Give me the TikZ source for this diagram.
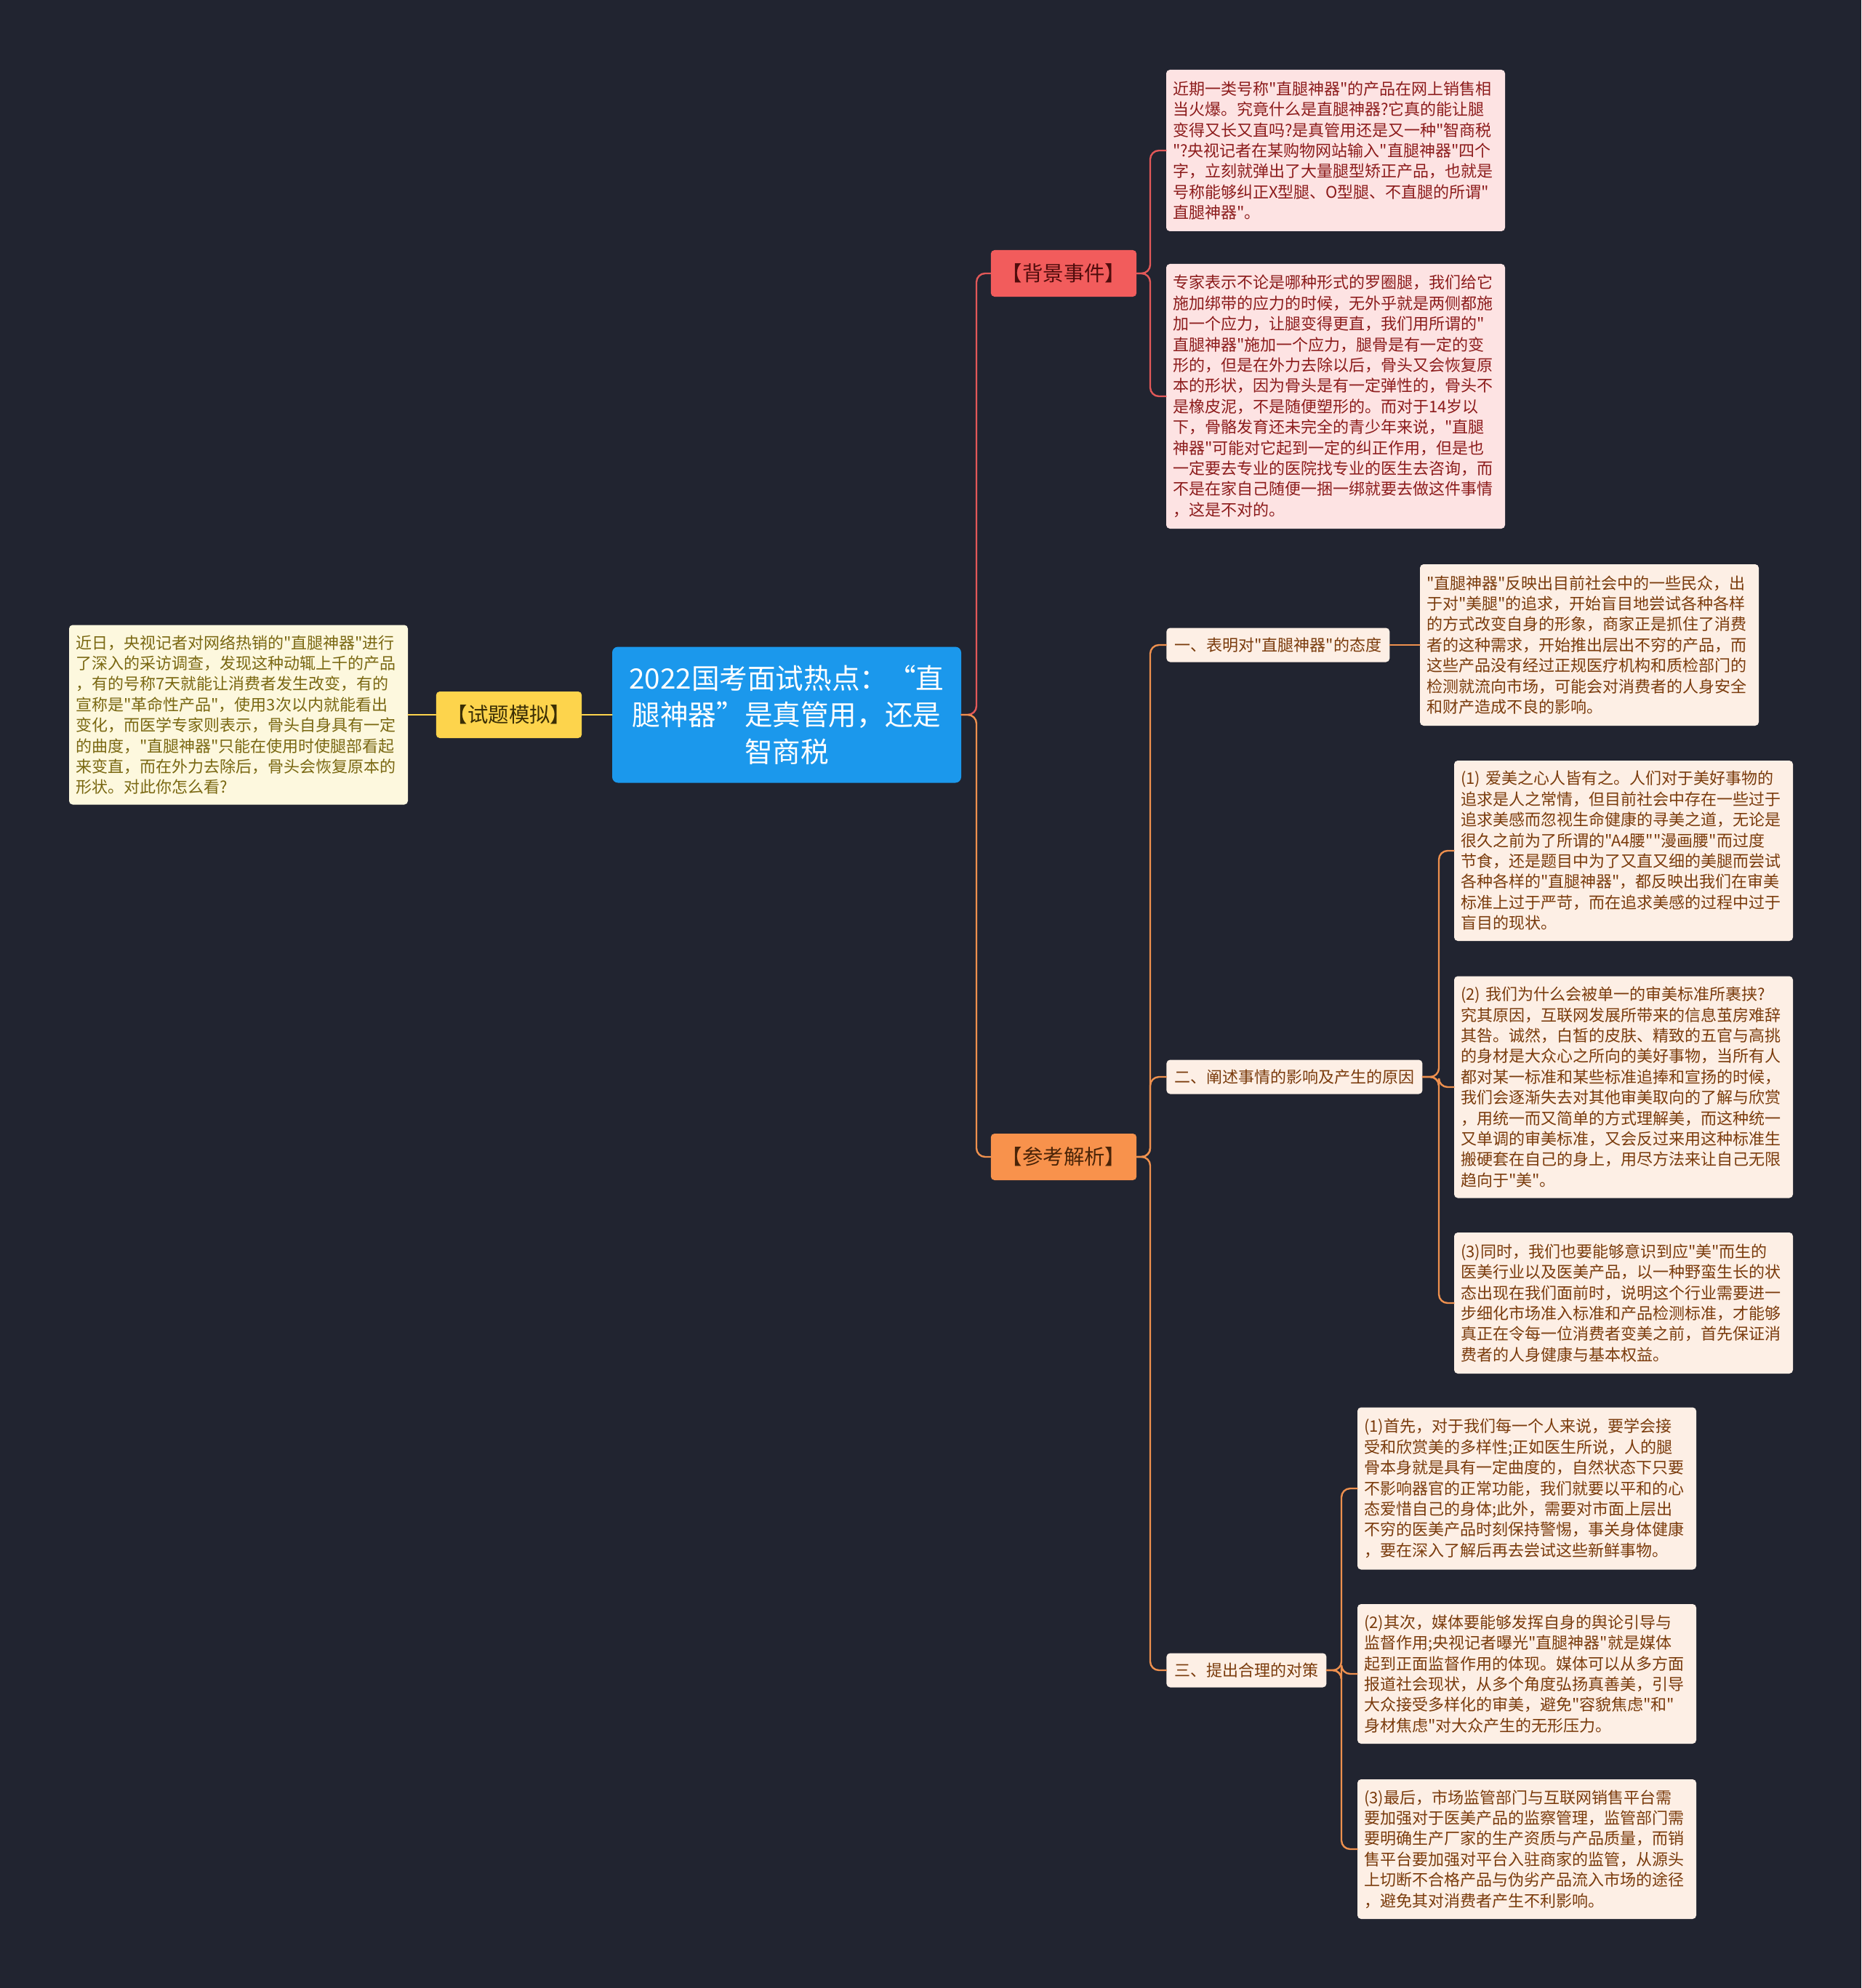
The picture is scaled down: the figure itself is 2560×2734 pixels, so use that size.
\documentclass[tikz,border=0pt]{standalone}
\usepackage{fontspec}
\newfontfamily\cjkfont{Noto Sans CJK SC}
\definecolor{bgc}{RGB}{33,36,48}
\definecolor{ctrc}{RGB}{27,152,236}
\definecolor{yelc}{RGB}{253,212,76}
\definecolor{yelfill}{RGB}{253,248,222}
\definecolor{yeltext}{RGB}{122,104,18}
\definecolor{redc}{RGB}{242,92,92}
\definecolor{redline}{RGB}{226,88,88}
\definecolor{pinkfill}{RGB}{253,227,227}
\definecolor{pinktext}{RGB}{140,28,28}
\definecolor{orgc}{RGB}{248,146,76}
\definecolor{orgline}{RGB}{238,144,78}
\definecolor{peachfill}{RGB}{253,239,229}
\definecolor{peachtext}{RGB}{122,59,12}
\begin{document}
\begin{tikzpicture}[x=0.5pt, y=-0.5pt, line cap=round,
  box/.style={rounded corners=2.5pt, inner xsep=4.5pt, inner ysep=5pt, align=left,
    text width=224pt, font=\cjkfont\fontsize{11}{14.2}\selectfont},
  pinkbox/.style={box, fill=pinkfill, text=pinktext},
  peachbox/.style={box, fill=peachfill, text=peachtext},
  tag/.style={rounded corners=2.5pt, inner xsep=7.5pt, minimum height=32pt,
    font=\cjkfont\fontsize{14.2}{16}\selectfont},
  sub/.style={rounded corners=2.5pt, inner xsep=5.5pt, minimum height=23.5pt, anchor=west,
    fill=peachfill, text=peachtext, font=\cjkfont\fontsize{11}{14.2}\selectfont},
  link/.style={line width=1.2pt, rounded corners=6pt}]
% 背景
\fill[bgc] (0,0) rectangle (2560,2734);
% 中心主题
\node[fill=ctrc, text=white, rounded corners=4pt, align=center, text width=225pt,
  inner xsep=7.5pt, minimum height=93.5pt, font=\cjkfont\fontsize{19.3}{25.3}\selectfont]
  (ctr) at (1082,983) {2022国考面试热点：“直\\腿神器”是真管用，还是\\智商税};
% 试题模拟
\node[tag, fill=yelc, text={rgb,255:red,58;green,46;blue,5}] (sim) at (700,983) {【试题模拟】};
\node[box, fill=yelfill, text=yeltext, minimum height=123.5pt] (q) at (328,983)
  {近日，央视记者对网络热销的"直腿神器"进行\\了深入的采访调查，发现这种动辄上千的产品\\，有的号称7天就能让消费者发生改变，有的\\宣称是"革命性产品"，使用3次以内就能看出\\变化，而医学专家则表示，骨头自身具有一定\\的曲度，"直腿神器"只能在使用时使腿部看起\\来变直，而在外力去除后，骨头会恢复原本的\\形状。对此你怎么看?};
\draw[line width=1.2pt, yelc] (ctr.west) -- (sim.east);
\draw[line width=1.2pt, yelc] (sim.west) -- (q.east);
% 背景事件
\node[tag, fill=redc, text={rgb,255:red,80;green,12;blue,12}] (bg) at (1463,376) {【背景事件】};
\node[pinkbox, minimum height=111pt] (bg1) at (1837,207)
  {近期一类号称"直腿神器"的产品在网上销售相\\当火爆。究竟什么是直腿神器?它真的能让腿\\变得又长又直吗?是真管用还是又一种"智商税\\"?央视记者在某购物网站输入"直腿神器"四个\\字，立刻就弹出了大量腿型矫正产品，也就是\\号称能够纠正X型腿、O型腿、不直腿的所谓"\\直腿神器"。};
\node[pinkbox, minimum height=182pt] (bg2) at (1837,545)
  {专家表示不论是哪种形式的罗圈腿，我们给它\\施加绑带的应力的时候，无外乎就是两侧都施\\加一个应力，让腿变得更直，我们用所谓的"\\直腿神器"施加一个应力，腿骨是有一定的变\\形的，但是在外力去除以后，骨头又会恢复原\\本的形状，因为骨头是有一定弹性的，骨头不\\是橡皮泥，不是随便塑形的。而对于14岁以\\下，骨骼发育还未完全的青少年来说，"直腿\\神器"可能对它起到一定的纠正作用，但是也\\一定要去专业的医院找专业的医生去咨询，而\\不是在家自己随便一捆一绑就要去做这件事情\\，这是不对的。};
% 参考解析
\node[tag, fill=orgc, text={rgb,255:red,74;green,36;blue,8}] (ans) at (1463,1591) {【参考解析】};
\node[sub] (p1) at (1604,887) {一、表明对"直腿神器"的态度};
\node[sub] (p2) at (1604,1481) {二、阐述事情的影响及产生的原因};
\node[sub] (p3) at (1604,2297) {三、提出合理的对策};
\node[peachbox, minimum height=111pt] (p1box) at (2186,887)
  {"直腿神器"反映出目前社会中的一些民众，出\\于对"美腿"的追求，开始盲目地尝试各种各样\\的方式改变自身的形象，商家正是抓住了消费\\者的这种需求，开始推出层出不穷的产品，而\\这些产品没有经过正规医疗机构和质检部门的\\检测就流向市场，可能会对消费者的人身安全\\和财产造成不良的影响。};
\node[peachbox, minimum height=124pt] (p2a) at (2233,1170)
  {(1) 爱美之心人皆有之。人们对于美好事物的\\追求是人之常情，但目前社会中存在一些过于\\追求美感而忽视生命健康的寻美之道，无论是\\很久之前为了所谓的"A4腰""漫画腰"而过度\\节食，还是题目中为了又直又细的美腿而尝试\\各种各样的"直腿神器"，都反映出我们在审美\\标准上过于严苛，而在追求美感的过程中过于\\盲目的现状。};
\node[peachbox, minimum height=152.5pt] (p2b) at (2233,1495)
  {(2) 我们为什么会被单一的审美标准所裹挟?\\究其原因，互联网发展所带来的信息茧房难辞\\其咎。诚然，白皙的皮肤、精致的五官与高挑\\的身材是大众心之所向的美好事物，当所有人\\都对某一标准和某些标准追捧和宣扬的时候，\\我们会逐渐失去对其他审美取向的了解与欣赏\\，用统一而又简单的方式理解美，而这种统一\\又单调的审美标准，又会反过来用这种标准生\\搬硬套在自己的身上，用尽方法来让自己无限\\趋向于"美"。};
\node[peachbox, minimum height=97pt] (p2c) at (2233,1792)
  {(3)同时，我们也要能够意识到应"美"而生的\\医美行业以及医美产品，以一种野蛮生长的状\\态出现在我们面前时，说明这个行业需要进一\\步细化市场准入标准和产品检测标准，才能够\\真正在令每一位消费者变美之前，首先保证消\\费者的人身健康与基本权益。};
\node[peachbox, minimum height=111.5pt] (p3a) at (2100,2047)
  {(1)首先，对于我们每一个人来说，要学会接\\受和欣赏美的多样性;正如医生所说，人的腿\\骨本身就是具有一定曲度的，自然状态下只要\\不影响器官的正常功能，我们就要以平和的心\\态爱惜自己的身体;此外，需要对市面上层出\\不穷的医美产品时刻保持警惕，事关身体健康\\，要在深入了解后再去尝试这些新鲜事物。};
\node[peachbox, minimum height=96pt] (p3b) at (2100,2302)
  {(2)其次，媒体要能够发挥自身的舆论引导与\\监督作用;央视记者曝光"直腿神器"就是媒体\\起到正面监督作用的体现。媒体可以从多方面\\报道社会现状，从多个角度弘扬真善美，引导\\大众接受多样化的审美，避免"容貌焦虑"和"\\身材焦虑"对大众产生的无形压力。};
\node[peachbox, minimum height=96pt] (p3c) at (2100,2543)
  {(3)最后，市场监管部门与互联网销售平台需\\要加强对于医美产品的监察管理，监管部门需\\要明确生产厂家的生产资质与产品质量，而销\\售平台要加强对平台入驻商家的监管，从源头\\上切断不合格产品与伪劣产品流入市场的途径\\，避免其对消费者产生不利影响。};
% 连线
\coordinate (t0) at (1343,983);
\coordinate (t1) at (1582,376);
\coordinate (t2) at (1582,1591);
\coordinate (t3) at (1979,1481);
\coordinate (t4) at (1845,2297);
\draw[link, redline] (ctr.east) -- (t0) |- (bg.west);
\draw[link, orgline] (ctr.east) -- (t0) |- (ans.west);
\draw[link, redline] (bg.east) -- (t1) |- (bg1.west);
\draw[link, redline] (bg.east) -- (t1) |- (bg2.west);
\draw[link, orgline] (ans.east) -- (t2) |- (p1.west);
\draw[link, orgline] (ans.east) -- (t2) |- (p2.west);
\draw[link, orgline] (ans.east) -- (t2) |- (p3.west);
\draw[link, orgline] (p1.east) -- (p1box.west);
\draw[link, orgline] (p2.east) -- (t3) |- (p2a.west);
\draw[link, orgline] (p2.east) -- (t3) |- (p2b.west);
\draw[link, orgline] (p2.east) -- (t3) |- (p2c.west);
\draw[link, orgline] (p3.east) -- (t4) |- (p3a.west);
\draw[link, orgline] (p3.east) -- (t4) |- (p3b.west);
\draw[link, orgline] (p3.east) -- (t4) |- (p3c.west);
\end{tikzpicture}
\end{document}
